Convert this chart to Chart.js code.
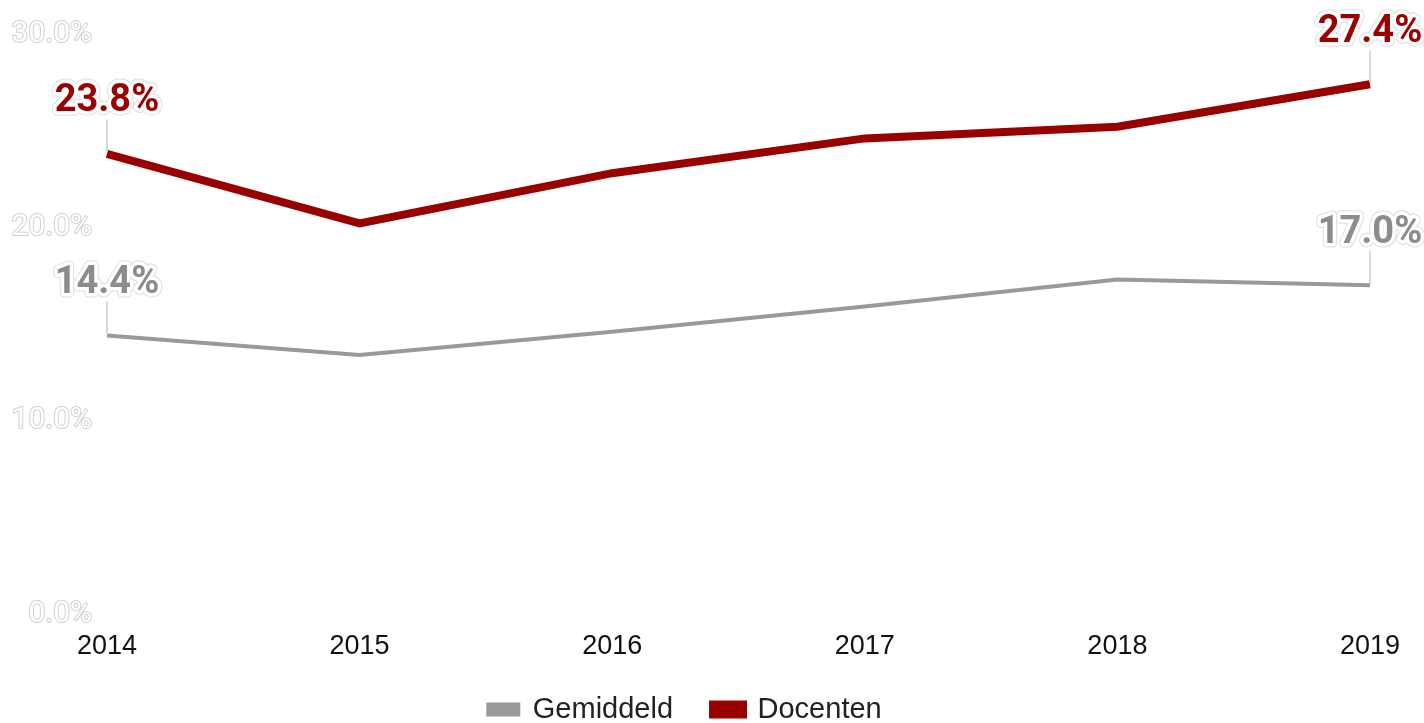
<!DOCTYPE html>
<html>
<head>
<meta charset="utf-8">
<script src="https://cdn.jsdelivr.net/npm/chart.js@4"></script>
<style>
html,body{margin:0;padding:0;background:#fff;}
#wrap{width:1424px;height:723px;position:relative;}
</style>
</head>
<body>
<div id="wrap"><canvas id="c"></canvas></div>
<script>
const years = ['2014','2015','2016','2017','2018','2019'];
const gemiddeld = [14.4, 13.4, 14.6, 15.9, 17.3, 17.0];
const docenten = [23.8, 20.2, 22.8, 24.6, 25.2, 27.4];
const yTicks = [0, 10, 20, 30];

const endLabels = {
  id: 'endLabels',
  afterDatasetsDraw(chart) {
    const ctx = chart.ctx;
    chart.data.datasets.forEach((ds, di) => {
      const meta = chart.getDatasetMeta(di);
      const idxs = [0, ds.data.length - 1];
      idxs.forEach(i => {
        const pt = meta.data[i];
        const txt = ds.data[i].toFixed(1) + '%';
        const ly = pt.y - 52;
        ctx.save();
        ctx.strokeStyle = '#cccccc';
        ctx.lineWidth = 1.5;
        ctx.beginPath();
        ctx.moveTo(pt.x, pt.y - 2);
        ctx.lineTo(pt.x, ly + 18);
        ctx.stroke();
        ctx.font = 'bold 38px Roboto, "Liberation Sans", sans-serif';
        ctx.textAlign = 'center';
        ctx.textBaseline = 'middle';
        ctx.lineJoin = 'round';
        ctx.strokeStyle = '#dddddd';
        ctx.lineWidth = 9;
        ctx.strokeText(txt, pt.x, ly);
        ctx.strokeStyle = '#ffffff';
        ctx.lineWidth = 7;
        ctx.strokeText(txt, pt.x, ly);
        ctx.fillStyle = ds.labelColor;
        ctx.fillText(txt, pt.x, ly);
        ctx.restore();
      });
    });
  }
};

new Chart(document.getElementById('c'), {
  type: 'line',
  data: {
    labels: years,
    datasets: [
      {
        label: 'Gemiddeld',
        data: gemiddeld,
        borderColor: '#999999',
        backgroundColor: '#999999',
        borderWidth: 4,
        pointRadius: 0,
        tension: 0,
        labelColor: '#8c8c8c'
      },
      {
        label: 'Docenten',
        data: docenten,
        borderColor: '#990000',
        backgroundColor: '#990000',
        borderWidth: 8,
        pointRadius: 0,
        tension: 0,
        labelColor: '#990000'
      }
    ]
  },
  options: {
    responsive: true,
    maintainAspectRatio: false,
    animation: false,
    layout: { padding: { left: 0, right: 54, top: 34, bottom: -11 } },
    plugins: {
      legend: {
        position: 'bottom',
        labels: {
          boxWidth: 30,
          boxHeight: 10,
          padding: 40,
          color: '#222222',
          font: { family: '"Liberation Sans", Arial, sans-serif', size: 29 }
        }
      },
      tooltip: { enabled: false }
    },
    scales: {
      x: {
        offset: false,
        grid: { display: false },
        border: { display: false },
        afterFit(scale) { scale.height = 41; },
        ticks: {
          color: '#111111',
          padding: 8,
          maxRotation: 0,
          font: { family: '"Liberation Sans", Arial, sans-serif', size: 27 }
        }
      },
      y: {
        min: 0,
        max: 30,
        afterBuildTicks(scale) { scale.ticks = yTicks.map(v => ({ value: v })); },
        afterFit(scale) { scale.width = 107; },
        grid: { display: false },
        border: { display: false },
        ticks: {
          padding: 7,
          color: '#ffffff',
          textStrokeColor: '#d0d0d0',
          textStrokeWidth: 2,
          font: { family: 'Roboto, sans-serif', size: 30 },
          callback: v => v.toFixed(1) + '%'
        }
      }
    }
  },
  plugins: [endLabels]
});
</script>
</body>
</html>
